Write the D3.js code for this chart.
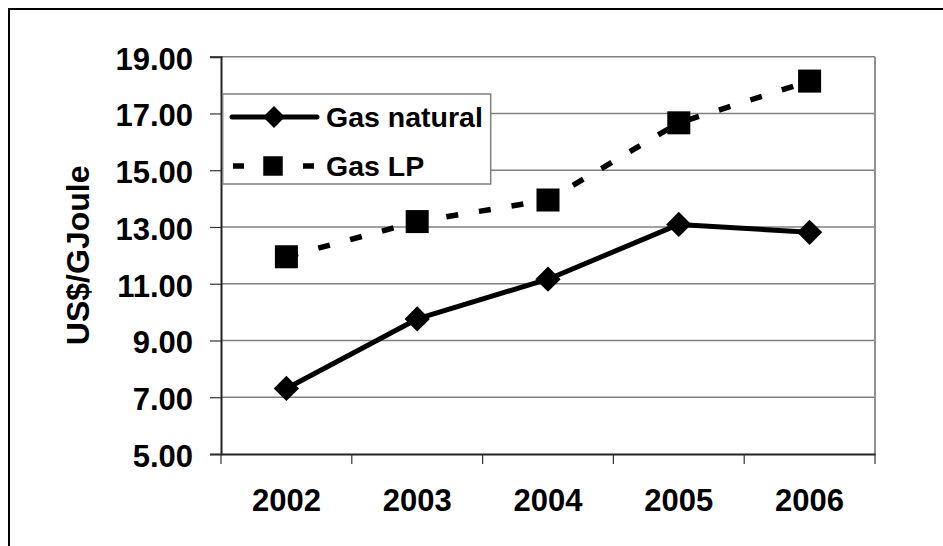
<!DOCTYPE html>
<html>
<head>
<meta charset="utf-8">
<script src="https://cdn.jsdelivr.net/npm/d3@7"></script>
<style>
  html, body { margin: 0; padding: 0; background: #fff; }
  svg { display: block; }
  text { font-family: "Liberation Sans", Arial, sans-serif; font-weight: bold; fill: #000; }
</style>
</head>
<body>
<svg id="chart" width="943" height="546"></svg>
<script>
const years = ["2002", "2003", "2004", "2005", "2006"];
const gasNatural = [7.31, 9.76, 11.16, 13.09, 12.81];
const gasLP = [11.95, 13.19, 13.95, 16.67, 18.14];
const yTicks = [5, 7, 9, 11, 13, 15, 17, 19];
const seriesNames = ["Gas natural", "Gas LP"];
const yTitle = "US$/GJoule";

const svg = d3.select("#chart");
const plot = { left: 221, right: 875, top: 56.7, bottom: 454 };

// outer border
svg.append("rect").attr("x", 9).attr("y", 9).attr("width", 1200).attr("height", 1200)
  .attr("fill", "#fff").attr("stroke", "#000").attr("stroke-width", 2);

const x = d3.scaleBand().domain(years).range([plot.left, plot.right]);
const y = d3.scaleLinear().domain([5, 19]).range([plot.bottom, plot.top]);

// gridlines
svg.append("g").selectAll("line").data(yTicks.slice(1)).join("line")
  .attr("x1", plot.left).attr("x2", plot.right)
  .attr("y1", d => y(d)).attr("y2", d => y(d))
  .attr("stroke", "#808080").attr("stroke-width", 1.4);
// right border of plot
svg.append("line").attr("x1", plot.right).attr("x2", plot.right)
  .attr("y1", plot.top).attr("y2", plot.bottom)
  .attr("stroke", "#909090").attr("stroke-width", 2);

// y axis
const yAxis = d3.axisLeft(y).tickValues(yTicks).tickFormat(d3.format(".2f")).tickSize(11).tickPadding(17);
const gy = svg.append("g").attr("transform", `translate(${plot.left},0)`).call(yAxis);
gy.select(".domain").attr("stroke", "#222").attr("stroke-width", 2);
gy.selectAll(".tick line").attr("stroke", "#333").attr("stroke-width", 1.2);
gy.selectAll(".tick text").style("font-size", "31px").attr("dy", "0.4em")
  .style("font-family", "'Liberation Sans', Arial, sans-serif").style("font-weight", "bold").attr("fill", "#000");

// x axis
const xAxis = d3.axisBottom(x).tickSize(0).tickPadding(0);
const gx = svg.append("g").attr("transform", `translate(0,${plot.bottom})`).call(xAxis);
gx.select(".domain").attr("stroke", "#222").attr("stroke-width", 2);
gx.selectAll(".tick text").style("font-size", "31px").attr("y", 0).attr("dy", 0)
  .attr("transform", "translate(0,57)")
  .style("font-family", "'Liberation Sans', Arial, sans-serif").style("font-weight", "bold").attr("fill", "#000");
// category boundary ticks
const bounds = years.map(d => x(d)).concat([plot.right]);
svg.append("g").selectAll("line").data(bounds).join("line")
  .attr("x1", d => d).attr("x2", d => d)
  .attr("y1", plot.bottom).attr("y2", plot.bottom + 10)
  .attr("stroke", "#333").attr("stroke-width", 1.2);

// y title
svg.append("text")
  .attr("transform", `translate(89,${(plot.top + plot.bottom) / 2}) rotate(-90)`)
  .attr("text-anchor", "middle").style("font-size", "32px").text(yTitle);

const cx = d => x(d) + x.bandwidth() / 2;

// series lines
const line = d3.line().x((d, i) => cx(years[i])).y(d => y(d));
svg.append("path").datum(gasLP).attr("d", line).attr("fill", "none")
  .attr("stroke", "#000").attr("stroke-width", 5.5).attr("stroke-dasharray", "12,21");
svg.append("path").datum(gasNatural).attr("d", line).attr("fill", "none")
  .attr("stroke", "#000").attr("stroke-width", 5).attr("stroke-linejoin", "round");

const diamond = d3.symbol().type(d3.symbolSquare).size(320);
const square = d3.symbol().type(d3.symbolSquare).size(530);

svg.append("g").selectAll("path").data(gasLP).join("path")
  .attr("d", square).attr("fill", "#000")
  .attr("transform", (d, i) => `translate(${cx(years[i])},${y(d)})`);
svg.append("g").selectAll("path").data(gasNatural).join("path")
  .attr("d", diamond).attr("fill", "#000")
  .attr("transform", (d, i) => `translate(${cx(years[i])},${y(d)}) rotate(45)`);

// legend
const lg = svg.append("g");
lg.append("rect").attr("x", 222.7).attr("y", 94).attr("width", 268).attr("height", 90)
  .attr("fill", "#fff").attr("stroke", "#808080").attr("stroke-width", 1.5);
// row 1
lg.append("line").attr("x1", 232).attr("x2", 317).attr("y1", 117).attr("y2", 117)
  .attr("stroke", "#000").attr("stroke-width", 5).attr("stroke-linecap", "round");
lg.append("path").attr("d", d3.symbol().type(d3.symbolSquare).size(240)())
  .attr("transform", "translate(274,117) rotate(45)").attr("fill", "#000");
lg.append("text").attr("x", 326).attr("y", 127).style("font-size", "28.5px").text(seriesNames[0]);
// row 2
lg.append("line").attr("x1", 233).attr("x2", 314).attr("y1", 166).attr("y2", 166)
  .attr("stroke", "#000").attr("stroke-width", 5.5).attr("stroke-dasharray", "11,59");
lg.append("path").attr("d", d3.symbol().type(d3.symbolSquare).size(380)())
  .attr("transform", "translate(273,166)").attr("fill", "#000");
lg.append("text").attr("x", 326).attr("y", 176).style("font-size", "28.5px").text(seriesNames[1]);
</script>
</body>
</html>
